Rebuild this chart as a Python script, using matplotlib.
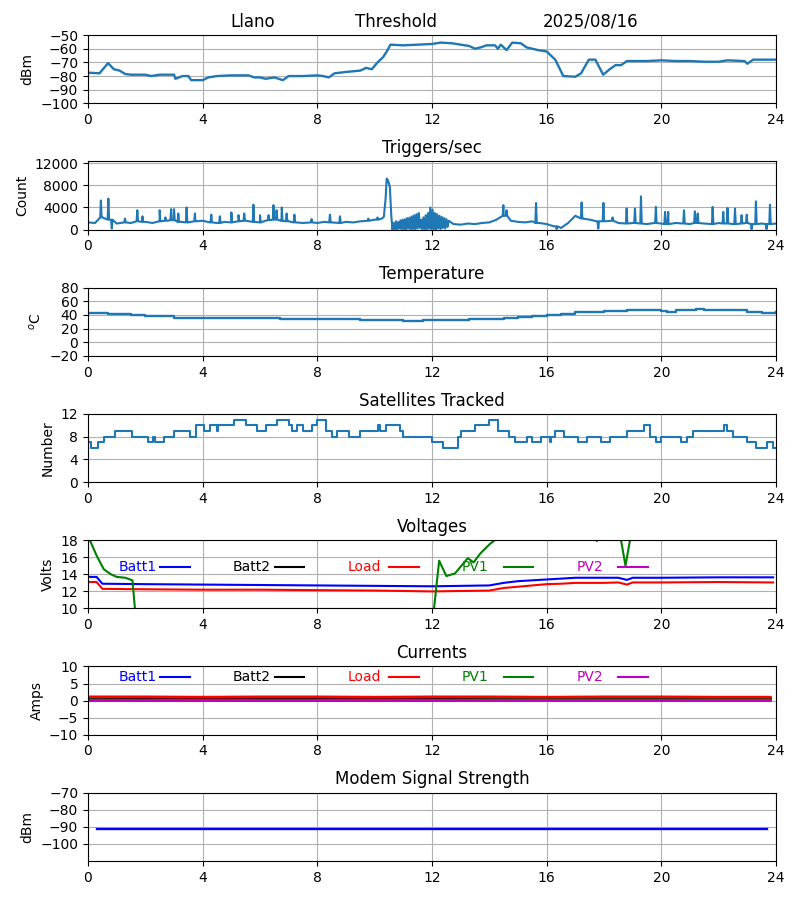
import matplotlib
matplotlib.use("Agg")
import matplotlib.pyplot as plt

# Signal level (dBm) vs hour
sig_hours = [0, 0.4, 0.7, 0.9, 1.1, 1.3, 1.5, 2.0, 2.2, 2.5, 3.0, 3.05, 3.3, 3.5, 3.6, 4.0, 4.2, 4.5,
             5.0, 5.6, 5.8, 6.0, 6.2, 6.5, 6.8, 7.0, 7.5, 8.0, 8.2, 8.4, 8.6, 9.0, 9.5, 9.7, 9.9,
             10.1, 10.3, 10.45, 10.55, 11.0, 11.5, 12.0, 12.3, 12.7, 13.0, 13.3, 13.5, 13.7, 13.9,
             14.2, 14.3, 14.4, 14.6, 14.8, 15.1, 15.3, 15.5, 15.7, 16.0, 16.3, 16.58, 17.0, 17.2,
             17.47, 17.7, 17.97, 18.2, 18.4, 18.6, 18.8, 19.5, 20.0, 20.5, 21.0, 21.5, 22.0, 22.3,
             22.9, 23.0, 23.2, 23.6, 24.0]
sig_dbm = [-77.5, -78, -70.5, -75, -76, -78.5, -79, -79, -80, -79, -79, -82, -80, -80, -83, -83, -81, -80,
           -79.5, -79.5, -81, -81, -82, -81, -83, -80, -80, -79.5, -80, -81, -78, -77, -76, -74, -75,
           -70, -66, -61, -57, -57.5, -57, -56.5, -55.5, -56, -57, -58, -60, -59, -57.5,
           -57.5, -60, -57, -61, -55.5, -56, -59, -60, -61, -62, -68, -80, -80.5, -78,
           -68, -68, -79, -75, -72, -72, -69, -69, -68.5, -69, -69, -69.5, -69.5, -68.5,
           -69, -71, -68, -68, -68]

# Triggers/sec: baseline every 0.25 h, narrow spikes/dips, and the noisy band after 10.6 h
base_hours = [0, 0.25, 0.5, 0.75, 1.0, 1.25, 1.5, 1.75, 2.0, 2.25, 2.5, 2.75, 3.0, 3.25, 3.5, 3.75,
              4.0, 4.25, 4.5, 4.75, 5.0, 5.25, 5.5, 5.75, 6.0, 6.25, 6.5, 6.75, 7.0, 7.25, 7.5, 7.75,
              8.0, 8.25, 8.5, 8.75, 9.0, 9.25, 9.5, 9.75, 10.0, 10.25,
              12.75, 13.0, 13.25, 13.5, 13.75, 14.0, 14.25, 14.5, 14.75, 15.0, 15.25, 15.5, 15.75,
              16.0, 16.25, 16.5, 16.75, 17.0, 17.25, 17.5, 17.75, 18.0, 18.25, 18.5, 18.75, 19.0,
              19.25, 19.5, 19.75, 20.0, 20.25, 20.5, 20.75, 21.0, 21.25, 21.5, 21.75, 22.0, 22.25,
              22.5, 22.75, 23.0, 23.25, 23.5, 23.75, 24.0]
base_counts = [1300, 1200, 2200, 1800, 1100, 1300, 1200, 1500, 1400, 1200, 1500, 1600, 1700, 1400, 1300, 1500,
               1600, 1300, 1200, 1400, 1300, 1500, 1600, 1400, 1300, 1700, 1800, 1600, 1500, 1300, 1200, 1300,
               1200, 1400, 1300, 1200, 1400, 1300, 1500, 1600, 1800, 2000,
               1000, 900, 1100, 1000, 1200, 1300, 1800, 2500, 1600, 1400, 1300, 1500, 1200,
               1000, 600, 300, 1200, 2500, 2000, 1800, 1500, 1500, 1600, 1200, 1100, 1200,
               1100, 1000, 1200, 1100, 1000, 1200, 1100, 1000, 1200, 1100, 1000, 1200, 1100,
               1000, 1100, 1200, 1000, 1100, 1000, 1100]
spike_hours = [0.45, 0.71, 0.83, 1.29, 1.72, 1.9, 2.5, 2.7, 2.9, 3.0, 3.15, 3.44, 3.73, 4.3, 4.6, 5.0,
               5.25, 5.45, 5.77, 6.0, 6.3, 6.47, 6.58, 6.76, 6.93, 7.2, 7.8, 8.44, 8.79, 9.78, 10.1,
               14.49, 14.6, 15.63, 16.35, 17.22, 17.8, 17.98, 18.3, 18.79, 19.08, 19.29,
               19.81, 20.13, 20.24, 20.79, 21.17, 21.27, 21.79, 22.16, 22.31, 22.57, 22.8, 22.98,
               23.15, 23.3, 23.67, 23.79]
spike_counts = [5250, 5600, 200, 2000, 3500, 2400, 3500, 2200, 3700, 3700, 2900, 4000, 2900, 2700, 2400, 3100,
                2600, 2900, 4500, 2600, 2600, 4400, 3500, 4000, 2900, 2700, 1900, 2700, 2400, 2000, 2200,
                4400, 3500, 4800, 100, 4900, 200, 4800, 2200, 3800, 3800, 6000,
                4100, 3200, 3200, 3500, 3300, 2900, 4100, 3200, 3900, 3800, 2600, 2700,
                100, 5100, 100, 4500]
# the big bump just before 10.6 h
peak_hours = [10.32, 10.38, 10.42, 10.47, 10.53, 10.58]
peak_counts = [2300, 5500, 9200, 8800, 7700, 2500]
band_hours = [10.62, 10.66, 10.70, 10.74, 10.78, 10.82, 10.86, 10.90, 10.94, 10.98, 11.02, 11.06, 11.10,
              11.14, 11.18, 11.22, 11.26, 11.30, 11.34, 11.38, 11.42, 11.46, 11.50, 11.54, 11.58, 11.62,
              11.66, 11.70, 11.74, 11.78, 11.82, 11.86, 11.90, 11.94, 11.98, 12.02, 12.06, 12.10, 12.14,
              12.18, 12.22, 12.26, 12.30, 12.34, 12.38, 12.42, 12.46, 12.50, 12.54, 12.58]
band_counts = [0, 1200, 100, 1500, 0, 1400, 200, 1700, 0, 1800, 100, 1900, 0, 2100, 200, 2200, 0, 2400,
               100, 2600, 0, 2800, 200, 3000, 300, 1800, 0, 2200, 100, 2600, 0, 3000, 200, 4000, 0, 3600,
               100, 3000, 0, 2800, 200, 2500, 100, 2300, 300, 2100, 200, 1900, 500, 1600]

# Temperature (C)
temp_hours = [0, 0.7, 1.0, 1.5, 2.0, 2.5, 3.0, 3.5, 4.0, 4.5, 5.0, 5.8, 6.0, 6.5, 6.7, 8.0, 9.0, 9.5,
              10.0, 10.8, 11.0, 11.5, 11.7, 12.0, 13.0, 13.3, 14.0, 14.5, 15.0, 15.5, 16.0, 16.5, 17.0,
              17.5, 18.0, 18.5, 18.8, 19.0, 19.5, 20.0, 20.2, 20.5, 21.0, 21.2, 21.5, 22.0, 22.5, 23.0,
              23.5, 24.0]
temp_c = [43, 42, 41, 40, 39, 38, 36, 35.5, 35, 36, 36, 36, 35, 35, 34, 34, 34, 33,
          32.5, 32.5, 31, 31, 32, 32, 32, 33.5, 34, 35.5, 37, 38, 40, 42, 44,
          45, 46, 46, 47, 47, 47.5, 46, 45, 47, 47.5, 48.5, 47.5, 47.5, 47, 44,
          43, 44]

# Satellites tracked (step changes)
sat_hours = [0, 0.1, 0.35, 0.55, 0.95, 1.55, 2.1, 2.28, 2.33, 2.65, 3.0, 3.55, 3.75, 4.05, 4.25, 4.5,
             4.55, 5.1, 5.5, 5.9, 6.2, 6.6, 7.0, 7.1, 7.3, 7.5, 7.8, 8.0, 8.3, 8.5, 8.7, 9.1, 9.5,
             10.1, 10.2, 10.4, 10.9, 11.0, 12.0, 12.4, 12.9, 13.0, 13.5, 14.0, 14.3, 14.7, 14.9,
             15.3, 15.5, 15.8, 16.1, 16.15, 16.3, 16.6, 17.1, 17.4, 17.9, 18.2, 18.8, 19.4, 19.6,
             19.8, 20.0, 20.7, 20.9, 21.1, 22.2, 22.3, 22.5, 23.0, 23.3, 23.7, 23.9, 24.0]
sat_count = [7, 6, 7, 8, 9, 8, 7, 8, 7, 8, 9, 8, 10, 9, 10, 9,
             10, 11, 10, 9, 10, 11, 10, 9, 10, 9, 10, 11, 9, 8, 9, 8, 9,
             10, 9, 10, 9, 8, 7, 6, 8, 9, 10, 11, 9, 8, 7,
             8, 7, 8, 7, 8, 9, 8, 7, 8, 7, 8, 9, 10, 8,
             7, 8, 7, 8, 9, 10, 9, 8, 7, 6, 7, 6, 6]

# Voltages
volt_hours = [0, 0.3, 0.5, 2, 4, 6, 8, 10, 12, 13, 14, 14.5, 15, 15.5, 16, 16.5, 17, 17.5, 18,
              18.5, 18.8, 19.0, 20, 22, 23.9]
batt1_volts = [13.7, 13.7, 12.9, 12.85, 12.8, 12.75, 12.7, 12.65, 12.6, 12.65, 12.7, 13.0, 13.2, 13.3,
               13.4, 13.5, 13.6, 13.6, 13.6, 13.6, 13.35, 13.6, 13.6, 13.65, 13.65]
batt2_volts = [0] * 25
load_volts = [13.1, 13.1, 12.3, 12.25, 12.2, 12.2, 12.15, 12.1, 12.0, 12.05, 12.1, 12.4, 12.55, 12.7,
              12.85, 12.9, 13.0, 13.0, 13.0, 13.05, 12.8, 13.05, 13.05, 13.1, 13.05]
pv2_volts = [0] * 25
pv1_hours = [0, 0.3, 0.55, 0.8, 1.0, 1.3, 1.55, 1.9, 11.75, 12.25, 12.5, 12.8, 13.25, 13.45, 13.7,
             14.0, 14.3, 14.6, 17.65, 17.75, 17.85, 18.5, 18.75, 19.0, 23.9]
pv1_volts = [18.5, 16.2, 14.6, 14.0, 13.7, 13.6, 13.3, 0, 0, 15.6, 13.8, 14.1, 15.9, 15.4, 16.5,
             17.5, 18.3, 19.5, 19.5, 17.9, 19.5, 19.8, 15.0, 19.8, 19.5]

# Currents
amp_hours = [0, 2, 4, 6, 8, 10, 12, 14, 16, 18, 20, 22, 23.8]
batt1_amps = [0.7, 0.7, 0.7, 0.7, 0.7, 0.7, 0.7, 0.7, 0.7, 0.7, 0.7, 0.7, 0.7]
batt2_amps = [0.7, 0.6, 0.7, 0.7, 0.6, 0.7, 0.7, 0.7, 0.6, 0.7, 0.7, 0.6, 0.7]
load_amps = [1.1, 1.1, 1.0, 1.1, 1.1, 1.0, 1.1, 1.1, 1.0, 1.1, 1.1, 1.0, 1.0]
pv1_amps = [0.2, 0.1, 0.1, 0.1, 0.1, 0.1, 0.1, 0.2, 0.2, 0.2, 0.2, 0.2, 0.2]
pv2_amps = [0.3, 0.3, 0.3, 0.3, 0.3, 0.3, 0.3, 0.3, 0.3, 0.3, 0.3, 0.3, 0.3]

# Modem signal
modem_hours = [0.3, 23.7]
modem_dbm = [-91, -91]

legend_names = ["Batt1", "Batt2", "Load", "PV1", "PV2"]
legend_colors = ["b", "k", "r", "g", "m"]


def nearest_base(t):
    i = min(range(len(base_hours)), key=lambda k: abs(base_hours[k] - t))
    return base_counts[i]


# merge triggers pieces in time order; each spike gets narrow shoulders at the local baseline
pts = list(zip(base_hours, base_counts)) + list(zip(peak_hours, peak_counts)) + list(zip(band_hours, band_counts))
for t, c in zip(spike_hours, spike_counts):
    b = nearest_base(t)
    pts += [(t - 0.025, b), (t, c), (t + 0.025, b)]
pts.sort()
trig_hours = [t for t, c in pts]
trig_counts = [c for t, c in pts]


def add_legend(ax, ypos):
    # hand-made legend: label then short line, evenly spaced
    for i, (name, col) in enumerate(zip(legend_names, legend_colors)):
        x0 = 0.044 + i * 0.1665
        ax.text(x0, ypos, name, color=col, fontsize=10, va="center", transform=ax.transAxes)
        ax.plot([x0 + 0.061, x0 + 0.104], [ypos, ypos], color=col, lw=1.5, transform=ax.transAxes)


fig, axes = plt.subplots(7, 1, figsize=(8, 9), dpi=100)
fig.subplots_adjust(left=0.11, right=0.97, top=0.961, bottom=0.0433, hspace=0.85)

ax = axes[0]
ax.plot(sig_hours, sig_dbm, color="tab:blue", lw=1.7)
ax.set_ylim(-100, -50)
ax.set_yticks(range(-100, -49, 10))
ax.set_ylabel("dBm")
for xf, txt in zip([0.24, 0.448, 0.73], ["Llano", "Threshold", "2025/08/16"]):
    ax.annotate(txt, xy=(xf, 1.0), xycoords="axes fraction", xytext=(0, 6), textcoords="offset points",
                ha="center", va="baseline", fontsize=12)

ax = axes[1]
ax.plot(trig_hours, trig_counts, color="tab:blue")
ax.set_ylim(0, 12300)
ax.set_yticks([0, 4000, 8000, 12000])
ax.set_ylabel("Count")
ax.set_title("Triggers/sec")

ax = axes[2]
ax.plot(temp_hours, temp_c, color="tab:blue", lw=1.7, drawstyle="steps-post")
ax.set_ylim(-20, 80)
ax.set_yticks(range(-20, 81, 20))
ax.set_ylabel("$^o$C")
ax.set_title("Temperature")

ax = axes[3]
ax.plot(sat_hours, sat_count, color="tab:blue", drawstyle="steps-post")
ax.set_ylim(0, 12)
ax.set_yticks([0, 4, 8, 12])
ax.set_ylabel("Number")
ax.set_title("Satellites Tracked")

ax = axes[4]
ax.plot(volt_hours, batt1_volts, "b")
ax.plot(volt_hours, batt2_volts, "k")
ax.plot(volt_hours, load_volts, "r")
ax.plot(pv1_hours, pv1_volts, "g")
ax.plot(volt_hours, pv2_volts, "m")
ax.set_ylim(10, 18)
ax.set_yticks([10, 12, 14, 16, 18])
ax.set_ylabel("Volts")
ax.set_title("Voltages")
add_legend(ax, 0.61)

ax = axes[5]
ax.plot(amp_hours, batt1_amps, "b", lw=2)
ax.plot(amp_hours, batt2_amps, "k", lw=2)
ax.plot(amp_hours, load_amps, "r", lw=2)
ax.plot(amp_hours, pv1_amps, "g", lw=2)
ax.plot(amp_hours, pv2_amps, "m", lw=2)
ax.set_ylim(-10, 10)
ax.set_yticks([-10, -5, 0, 5, 10])
ax.set_ylabel("Amps")
ax.set_title("Currents")
add_legend(ax, 0.85)

ax = axes[6]
ax.plot(modem_hours, modem_dbm, "b", lw=1.7)
ax.set_ylim(-110, -70)
ax.set_yticks([-100, -90, -80, -70])
ax.set_ylabel("dBm")
ax.set_title("Modem Signal Strength")

for ax in axes:
    ax.set_xlim(0, 24)
    ax.set_xticks(range(0, 25, 4))
    ax.grid(True)

fig.savefig("out.png")
